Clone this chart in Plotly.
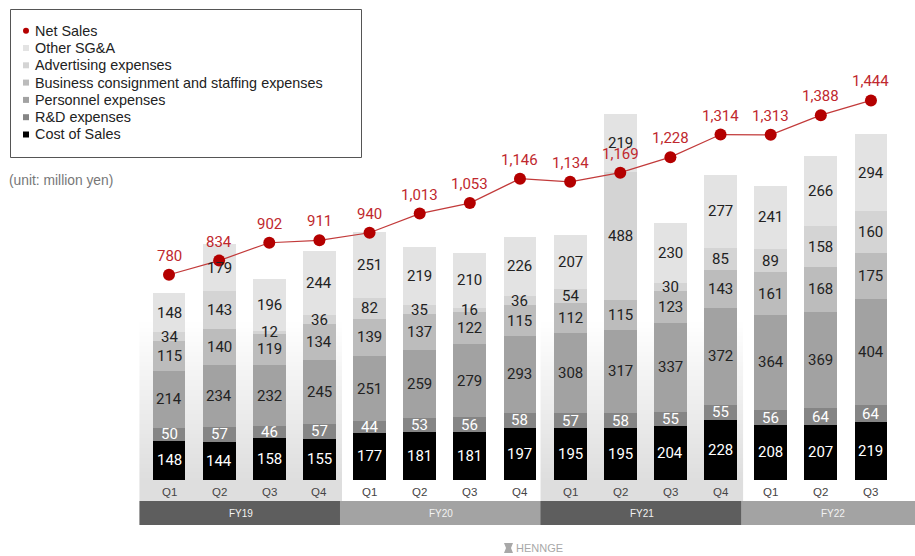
import plotly.graph_objects as go

# ---- data (million yen) ----
quarters = ["Q1", "Q2", "Q3", "Q4", "Q1", "Q2", "Q3", "Q4",
            "Q1", "Q2", "Q3", "Q4", "Q1", "Q2", "Q3"]
fiscal_years = ["FY19", "FY20", "FY21", "FY22"]
quarters_per_year = [4, 4, 4, 3]

cost_of_sales = [148, 144, 158, 155, 177, 181, 181, 197, 195, 195, 204, 228, 208, 207, 219]
rd_expenses = [50, 57, 46, 57, 44, 53, 56, 58, 57, 58, 55, 55, 56, 64, 64]
personnel_expenses = [214, 234, 232, 245, 251, 259, 279, 293, 308, 317, 337, 372, 364, 369, 404]
consignment_expenses = [115, 140, 119, 134, 139, 137, 122, 115, 112, 115, 123, 143, 161, 168, 175]
advertising_expenses = [34, 143, 12, 36, 82, 35, 16, 36, 54, 488, 30, 85, 89, 158, 160]
other_sga = [148, 179, 196, 244, 251, 219, 210, 226, 207, 219, 230, 277, 241, 266, 294]
net_sales = [780, 834, 902, 911, 940, 1013, 1053, 1146, 1134, 1169, 1228, 1314, 1313, 1388, 1444]

# ---- layout constants ----
W, H = 915, 556
PX_PER_Q = 50.14          # horizontal pixels per quarter
PX_PER_UNIT = 0.2625      # vertical pixels per million yen
X0_PX, Y0_PX = 169, 479.5  # pixel position of first bar centre / zero line

X_RANGE = [-X0_PX / PX_PER_Q, (W - X0_PX) / PX_PER_Q]
Y_RANGE = [-(H - Y0_PX) / PX_PER_UNIT, Y0_PX / PX_PER_UNIT]


def yval(py):
    """vertical pixel -> data value"""
    return (Y0_PX - py) / PX_PER_UNIT


def px(xp):
    return xp / W


def py(yp):
    return 1 - yp / H


RED_LINE = "#c23a3a"
RED_DOT = "#b40000"
RED_TEXT = "#c0282e"
DIGIT_FONT = "Roboto"
SANS = "Liberation Sans, Arial, sans-serif"

series = [
    ("Cost of Sales", cost_of_sales, "#000000", "#ffffff"),
    ("R&D expenses", rd_expenses, "#858585", "#ffffff"),
    ("Personnel expenses", personnel_expenses, "#a2a2a2", "#222222"),
    ("Business consignment and staffing expenses", consignment_expenses, "#bcbcbc", "#222222"),
    ("Advertising expenses", advertising_expenses, "#d4d4d4", "#222222"),
    ("Other SG&A", other_sga, "#e3e3e3", "#222222"),
]

x = list(range(len(quarters)))
fig = go.Figure()

# fiscal-year spans in quarter units
spans = []
start = 0
for n in quarters_per_year:
    spans.append((start, start + n - 1))
    start += n

BAND_TOP, BAND_BOTTOM = yval(501), yval(525)

annotations = []
shapes = []

# soft vertical shading behind alternate fiscal years (stacked thin strips)
FADE_TOP, FADE_BOTTOM, STRIP = 320, 480, 2
for k, (a, b) in enumerate(spans):
    if k % 2:
        continue
    s, e = a - 0.59, b + 0.45
    shapes.append(dict(type="rect", xref="x", yref="y", x0=s, x1=e,
                       y0=BAND_TOP, y1=yval(FADE_BOTTOM), fillcolor="#dedede",
                       line=dict(width=0), layer="below"))
    for yp in range(FADE_TOP, FADE_BOTTOM, STRIP):
        t = (yp + STRIP / 2 - FADE_TOP) / (FADE_BOTTOM - FADE_TOP)
        g = round(255 - t * (255 - 0xde))
        shapes.append(dict(type="rect", xref="x", yref="y", x0=s, x1=e,
                           y0=yval(yp + STRIP), y1=yval(yp),
                           fillcolor=f"rgb({g},{g},{g})",
                           line=dict(width=0), layer="below"))

# stacked expense bars; value labels sit centred in each segment
base = [0] * len(x)
for name, vals, color, tcolor in series:
    fig.add_trace(go.Bar(
        x=x, y=vals, name=name, width=0.655,
        marker=dict(color=color, line=dict(width=0)),
        showlegend=False, hoverinfo="skip"))
    for i, v in enumerate(vals):
        annotations.append(dict(
            x=i, y=base[i] + v / 2, xref="x", yref="y", text=str(v),
            showarrow=False,
            font=dict(family=DIGIT_FONT, size=15, color=tcolor)))
        base[i] += v

# net sales line
fig.add_trace(go.Scatter(
    x=x, y=net_sales, mode="lines+markers", name="Net Sales",
    line=dict(color=RED_LINE, width=1.2),
    marker=dict(color=RED_DOT, size=12),
    showlegend=False, hoverinfo="skip"))

for i, v in enumerate(net_sales):
    annotations.append(dict(
        x=i, y=v, xref="x", yref="y", text=f"{v:,}", showarrow=False,
        yshift=19, font=dict(family=DIGIT_FONT, size=15, color=RED_TEXT)))

# quarter labels
for i, q in enumerate(quarters):
    annotations.append(dict(
        x=i, y=yval(492), xref="x", yref="y", text=q, showarrow=False,
        font=dict(family=SANS, size=11.5, color="#444444")))

# fiscal-year bands
for k, ((a, b), fy) in enumerate(zip(spans, fiscal_years)):
    s = a - 0.59
    last = k == len(spans) - 1
    e = X_RANGE[1] if last else b + 0.45
    color = "#5e5e5e" if k % 2 == 0 else "#a3a3a3"
    shapes.append(dict(type="rect", xref="x", yref="y", x0=s, x1=e,
                       y0=BAND_BOTTOM, y1=BAND_TOP, fillcolor=color,
                       line=dict(width=0), layer="below"))
    cx = (s + e) / 2 + (0.1 if last else 0)
    annotations.append(dict(
        x=cx, y=(BAND_TOP + BAND_BOTTOM) / 2, xref="x", yref="y",
        text=fy, showarrow=False,
        font=dict(family=SANS, size=10, color="#f2f2f2")))

# legend box
shapes.append(dict(type="rect", xref="paper", yref="paper",
                   x0=px(10.5), x1=px(361.5), y0=py(157.5), y1=py(9.5),
                   line=dict(color="#555555", width=1), fillcolor="rgba(0,0,0,0)"))
legend_items = [("Net Sales", RED_DOT, "circle")] + \
    [(name, color, "square") for name, _, color, _ in reversed(series)]
for k, (name, color, kind) in enumerate(legend_items):
    yc = 30.7 + 17.3 * k
    shapes.append(dict(type="circle" if kind == "circle" else "rect",
                       xref="paper", yref="paper",
                       x0=px(23), x1=px(29), y0=py(yc + 3), y1=py(yc - 3),
                       fillcolor=color, line=dict(width=0)))
    annotations.append(dict(
        x=px(33), y=py(yc), xref="paper", yref="paper", text=name,
        showarrow=False, xanchor="left", yanchor="middle",
        font=dict(family=SANS, size=14.4, color="#222222")))

annotations.append(dict(
    x=px(7), y=py(180), xref="paper", yref="paper", text="(unit: million yen)",
    showarrow=False, xanchor="left", yanchor="middle",
    font=dict(family=SANS, size=13.8, color="#777777")))

# footer logo mark
shapes.append(dict(type="path", xref="paper", yref="paper",
                   path=(f"M {px(504)},{py(543)} L {px(513)},{py(543)} "
                         f"L {px(511)},{py(548)} L {px(513)},{py(553)} "
                         f"L {px(504)},{py(553)} L {px(506)},{py(548)} Z"),
                   fillcolor="#a8a8a8", line=dict(width=0)))
annotations.append(dict(
    x=px(514), y=py(548), xref="paper", yref="paper", text="HENNGE",
    showarrow=False, xanchor="left", yanchor="middle",
    font=dict(family=SANS, size=11, color="#a8a8a8")))

fig.update_layout(
    width=W, height=H, margin=dict(l=0, r=0, t=0, b=0),
    barmode="stack", bargap=0,
    paper_bgcolor="white", plot_bgcolor="white",
    xaxis=dict(range=X_RANGE, visible=False, fixedrange=True),
    yaxis=dict(range=Y_RANGE, visible=False, fixedrange=True),
    shapes=shapes, annotations=annotations, showlegend=False,
)

fig.write_html("out.html")
